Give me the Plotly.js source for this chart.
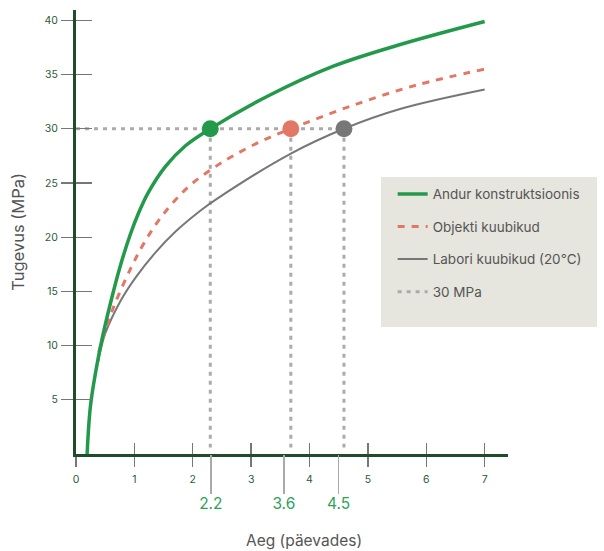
<!DOCTYPE html>
<html>
<head>
<meta charset="utf-8">
<script src="https://cdn.plot.ly/plotly-3.0.1.min.js"></script>
<style>html,body{margin:0;padding:0;background:#fff}#chart{width:604px;height:551px}</style>
</head>
<body>
<div id="chart"></div>
<script>
// ---- data ----
const seriesNames = ["Andur konstruktsioonis", "Objekti kuubikud", "Labori kuubikud (20°C)", "30 MPa"];

const andurDays = [0.19, 0.245, 0.33, 0.445, 0.59, 0.75, 0.93, 1.07, 1.24, 1.53, 1.87, 2.3, 3.28, 4.42, 5.57, 7.0];
const andurMPa  = [0, 4.3, 7.36, 10.58, 13.91, 17.19, 20.25, 22.21, 24.13, 26.51, 28.41, 30.0, 33.0, 35.8, 37.8, 39.9];

const objektDays = [0.39, 0.48, 0.57, 0.67, 0.94, 1.17, 1.48, 1.94, 2.37, 2.71, 3.17, 3.68, 4.71, 5.85, 7.0];
const objektMPa  = [9.4, 11.02, 12.46, 13.91, 17.15, 19.5, 22.01, 24.72, 26.44, 27.56, 28.85, 30.0, 32.1, 34.06, 35.5];

const laborDays = [0.38, 0.42, 0.50, 0.76, 1.02, 1.36, 1.71, 2.14, 2.40, 3.68, 4.59, 5.55, 7.0];
const laborMPa  = [8.5, 9.58, 11.1, 14.09, 16.27, 18.58, 20.54, 22.48, 23.49, 27.71, 30.0, 31.82, 33.62];

const targetMPa = 30;
const crossingDays = [2.3, 3.68, 4.59];           // where each curve reaches 30 MPa
const crossingLabelPos = [2.31, 3.56, 4.5];       // where the labels sit on the axis
const crossingLabels = ["2.2", "3.6", "4.5"];

const xTicks = [0, 1, 2, 3, 4, 5, 6, 7];
const yTicks = [5, 10, 15, 20, 25, 30, 35, 40];

// ---- styles ----
const green = "#23994b", red = "#e27765", grey = "#777777", dotGrey = "#ababab";
const axisGreen = "#1f4d2c", tickGrey = "#777777", labelGreen = "#2c5a38";
const FONT = "Inter, 'Open Sans', sans-serif";

// dotted guide lines built from the threshold data
const guideX = [0, crossingDays[crossingDays.length - 1]];
const guideY = [targetMPa, targetMPa];
crossingDays.forEach(d => { guideX.push(null, d, d); guideY.push(null, targetMPa, 0.6); });

const traces = [
  {x: guideX, y: guideY, mode: "lines", name: seriesNames[3], legendgroup: "d", legendrank: 4,
   line: {color: dotGrey, width: 3, dash: "4px,5px"}, hoverinfo: "skip"},
  {x: laborDays, y: laborMPa, mode: "lines", name: seriesNames[2], legendgroup: "c", legendrank: 3,
   line: {color: grey, width: 2, shape: "spline", smoothing: 1}},
  {x: objektDays, y: objektMPa, mode: "lines", name: seriesNames[1], legendgroup: "b", legendrank: 2,
   line: {color: red, width: 3, dash: "7px,7px", shape: "spline", smoothing: 1}},
  {x: andurDays, y: andurMPa, mode: "lines", name: seriesNames[0], legendgroup: "a", legendrank: 1,
   line: {color: green, width: 3.5, shape: "spline", smoothing: 1}},
  {x: crossingDays, y: crossingDays.map(() => targetMPa), mode: "markers", showlegend: false,
   marker: {size: 17, color: [green, red, grey]}}
];

const layout = {
  width: 604, height: 551,
  margin: {l: 76, r: 96, t: 10, b: 97},
  paper_bgcolor: "#ffffff", plot_bgcolor: "#ffffff",
  font: {family: FONT, color: "#555"},
  showlegend: true,
  legend: {x: 0.733, y: 0.62, xanchor: "left", yanchor: "top", bgcolor: "rgba(0,0,0,0)",
           traceorder: "grouped", tracegroupgap: 12,
           font: {family: FONT, size: 13.5, color: "#555"}},
  xaxis: {range: [0, 7.4], showgrid: false, zeroline: false,
          showline: true, linecolor: axisGreen, linewidth: 2.5,
          tickvals: xTicks, ticktext: xTicks.map(String), ticks: "outside", ticklen: 10,
          tickcolor: tickGrey, tickwidth: 1.3, ticklabelstandoff: 4,
          tickfont: {family: FONT, size: 10.5, color: labelGreen}},
  xaxis2: {range: [0, 7.4], overlaying: "x", anchor: "y", side: "bottom", showgrid: false, zeroline: false,
           showline: false, tickvals: xTicks.slice(1), ticks: "inside", ticklen: 11,
           tickcolor: tickGrey, tickwidth: 1.3, showticklabels: false},
  xaxis3: {range: [0, 7.4], overlaying: "x", anchor: "y", side: "bottom", showgrid: false, zeroline: false,
           showline: false, tickvals: crossingLabelPos, ticktext: crossingLabels, ticks: "outside", ticklen: 39,
           tickcolor: "#aaaaaa", tickwidth: 1.5, ticklabelstandoff: -4,
           tickfont: {family: FONT, size: 15.5, color: "#2ea357"}},
  yaxis: {range: [0, 40.96], showgrid: false, zeroline: false,
          showline: true, linecolor: axisGreen, linewidth: 3,
          tickvals: yTicks, ticktext: yTicks.map(String), ticks: "outside", ticklen: 12,
          tickcolor: tickGrey, tickwidth: 1.3, ticklabelstandoff: 1,
          tickfont: {family: FONT, size: 10.5, color: labelGreen}},
  yaxis2: {range: [0, 40.96], overlaying: "y", anchor: "x", side: "left", showgrid: false, zeroline: false,
           showline: false, tickvals: yTicks, ticks: "inside", ticklen: 16,
           tickcolor: tickGrey, tickwidth: 1.3, showticklabels: false},
  shapes: [
    {type: "rect", xref: "paper", yref: "paper", layer: "below",
     x0: (381 - 76) / 432, x1: (597 - 76) / 432, y0: (444 - 317) / 444, y1: (444 - 167) / 444,
     fillcolor: "#e6e5de", line: {width: 0}}
  ],
  annotations: [
    {text: "Tugevus (MPa)", xref: "paper", yref: "paper", x: -0.135, y: 0.5, textangle: -90,
     showarrow: false, xanchor: "center", yanchor: "middle", font: {family: FONT, size: 16.5, color: "#555"}},
    {text: "Aeg (päevades)", xref: "paper", yref: "paper", x: 0.528, y: -0.194, showarrow: false,
     xanchor: "center", yanchor: "middle", font: {family: FONT, size: 15.5, color: "#555"}}
  ]
};

// carrier traces so the overlay axes are drawn
traces.push({x: [null], y: [null], xaxis: "x2", yaxis: "y", showlegend: false, hoverinfo: "skip"});
traces.push({x: [null], y: [null], xaxis: "x3", yaxis: "y", showlegend: false, hoverinfo: "skip"});
traces.push({x: [null], y: [null], xaxis: "x", yaxis: "y2", showlegend: false, hoverinfo: "skip"});

Plotly.newPlot("chart", traces, layout, {staticPlot: true, displayModeBar: false});
</script>
</body>
</html>
